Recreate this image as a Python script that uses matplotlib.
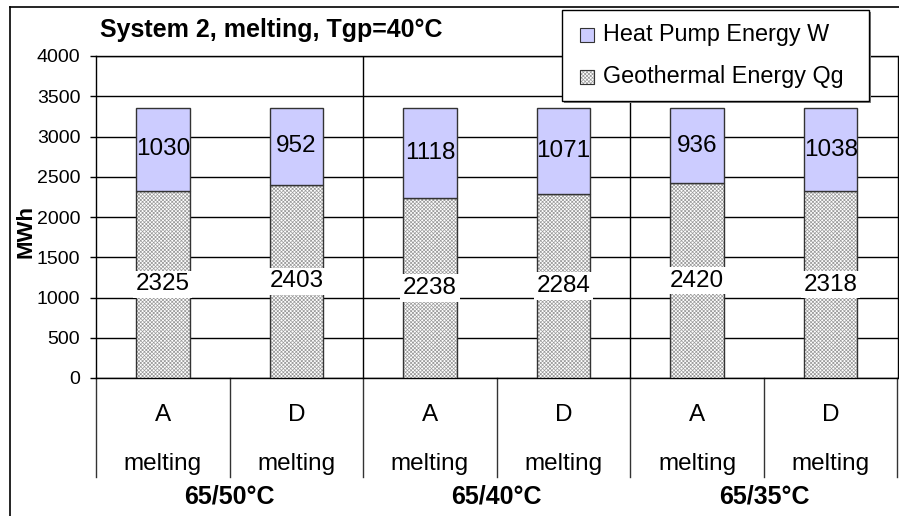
import matplotlib
matplotlib.use("Agg")
import matplotlib.pyplot as plt
from matplotlib.patches import Rectangle
from matplotlib.lines import Line2D
import matplotlib.transforms as mtransforms
import numpy as np

plt.rcParams['font.family'] = ['Liberation Sans', 'DejaVu Sans']

title = "System 2, melting, Tgp=40°C"
groups = ["65/50°C", "65/40°C", "65/35°C"]
variants = ["A", "D", "A", "D", "A", "D"]
modes = ["melting"] * 6
geothermal = [2325, 2403, 2238, 2284, 2420, 2318]
heat_pump = [1030, 952, 1118, 1071, 936, 1038]
yticks = [0, 500, 1000, 1500, 2000, 2500, 3000, 3500, 4000]
ylabel = "MWh"
series_names = ["Heat Pump Energy W", "Geothermal Energy Qg"]

W, H = 899, 516
fig = plt.figure(figsize=(W / 100, H / 100), dpi=100)

def fx(px):
    return px / W

def fy(py):
    return 1 - py / H

# outer frame
fig.add_artist(Line2D([fx(10), fx(10)], [0, fy(7)], color='black', lw=1.2))
fig.add_artist(Line2D([fx(10), 1], [fy(7), fy(7)], color='black', lw=1.2))

L, R, T, B = 96, 897.5, 56, 378
ax = fig.add_axes([fx(L), fy(B), (R - L) / W, (B - T) / H])

n = len(geothermal)
x = np.arange(n) + 0.5
bw = 0.40
hp_color = '#ccccff'
hatch = 'xxxxxxxxx'
hatch_col = '#9a9a9a'

plt.rcParams['hatch.linewidth'] = 0.5
ax.bar(x, geothermal, bw, color='white', edgecolor=hatch_col, hatch=hatch, lw=0, zorder=3)
ax.bar(x, geothermal, bw, fill=False, edgecolor='#333333', lw=1.0, zorder=4)
ax.bar(x, heat_pump, bw, bottom=geothermal, color=hp_color, edgecolor='#333333', lw=1.0, zorder=4)

for xi, g, h in zip(x, geothermal, heat_pump):
    ax.text(xi, g / 2, str(g), ha='center', va='center', fontsize=17.5, zorder=6,
            bbox=dict(facecolor='white', edgecolor='none', pad=2))
    ax.text(xi, g + h / 2, str(h), ha='center', va='center', fontsize=17.5, zorder=6)

ax.set_xlim(0, n)
ax.set_ylim(0, 4000)
ax.set_yticks(yticks)
ax.set_yticklabels([str(v) for v in yticks], fontsize=14)
ax.tick_params(axis='y', length=4.3, width=1, pad=7, direction='out')
ax.set_xticks([])
ax.grid(axis='y', color='black', lw=1, zorder=1)
for s in ax.spines.values():
    s.set_color('black')
    s.set_linewidth(1)

trans = mtransforms.blended_transform_factory(ax.transData, ax.transAxes)
ph = B - T

def ay(py):
    return (B - py) / ph

# group separators across the plot
for gx in [2, 4]:
    ax.add_line(Line2D([gx, gx], [0, 1], transform=trans, color='black', lw=1, zorder=2))
# label-area separators
for cx in range(0, n + 1):
    ax.add_line(Line2D([cx, cx], [0, ay(477)], transform=trans, color='#333333', lw=1,
                       clip_on=False))

for xi, v, m in zip(x, variants, modes):
    ax.text(xi, ay(415), v, transform=trans, ha='center', va='center', fontsize=17.5)
    ax.text(xi, ay(464), m, transform=trans, ha='center', va='center', fontsize=17.5)
for gi, gname in enumerate(groups):
    ax.text(2 * gi + 1, ay(496), gname, transform=trans, ha='center', va='center',
            fontsize=18, fontweight='bold')

fig.text(fx(100), fy(30), title, ha='left', va='center', fontsize=18, fontweight='bold')
fig.text(fx(26), fy(232), ylabel, ha='center', va='center', rotation=90,
         fontsize=16, fontweight='bold')

# legend (drawn manually to match the box geometry)
lx0, lx1, ly0, ly1 = 562, 869, 10, 101
fig.add_artist(Rectangle((fx(lx0 + 2), fy(ly1 + 2)), (lx1 - lx0) / W, (ly1 - ly0) / H,
                         transform=fig.transFigure, facecolor='#808080', edgecolor='none',
                         zorder=9))
fig.add_artist(Rectangle((fx(lx0), fy(ly1)), (lx1 - lx0) / W, (ly1 - ly0) / H,
                         transform=fig.transFigure, facecolor='white', edgecolor='black',
                         lw=1, zorder=10))
leg_styles = [dict(facecolor=hp_color, edgecolor='#333333'),
              dict(facecolor='white', edgecolor=hatch_col, hatch=hatch)]
for row, (name, st) in enumerate(zip(series_names, leg_styles)):
    cy = 35 + 42 * row
    fig.add_artist(Rectangle((fx(580), fy(cy + 7)), 14 / W, 14 / H,
                             transform=fig.transFigure, lw=0.8, zorder=11, **st))
    if 'hatch' in st:
        fig.add_artist(Rectangle((fx(580), fy(cy + 7)), 14 / W, 14 / H,
                                 transform=fig.transFigure, fill=False,
                                 edgecolor='#333333', lw=0.8, zorder=12))
    fig.text(fx(603), fy(cy), name, ha='left', va='center', fontsize=16.8, zorder=12)

fig.savefig("out.png", dpi=100)
